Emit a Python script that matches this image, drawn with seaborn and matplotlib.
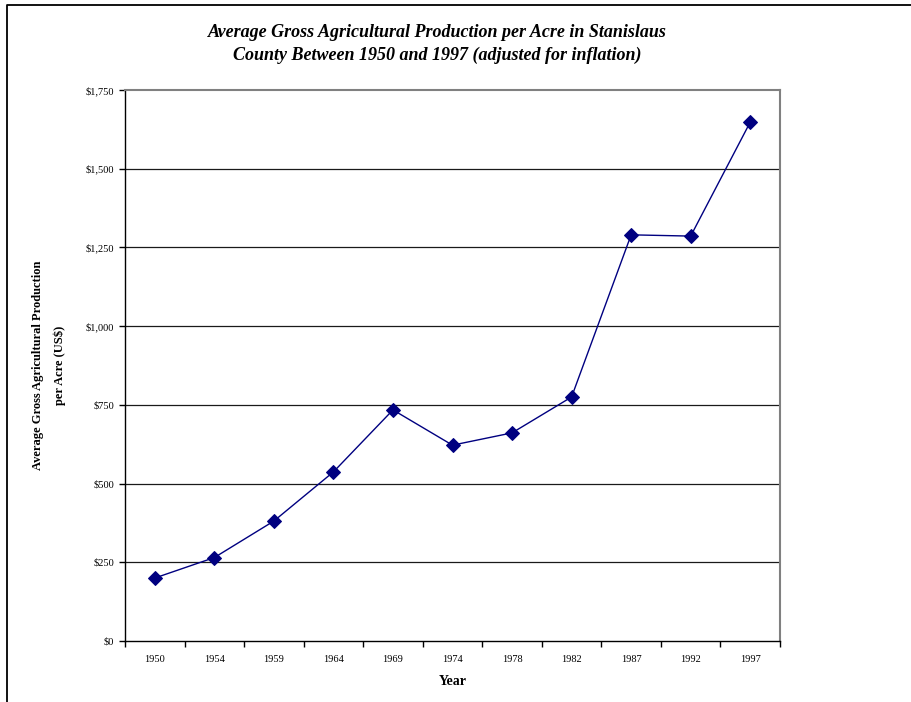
import matplotlib
matplotlib.use("Agg")
import matplotlib.pyplot as plt
from matplotlib.ticker import FixedLocator, FuncFormatter
from matplotlib.lines import Line2D
import seaborn as sns
import pandas as pd

years = ["1950", "1954", "1959", "1964", "1969", "1974", "1978", "1982", "1987", "1992", "1997"]
production = [200, 265, 381, 537, 734, 622, 661, 775, 1290, 1286, 1648]
y_ticks = [0, 250, 500, 750, 1000, 1250, 1500, 1750]

title_text = ("Average Gross Agricultural Production per Acre in Stanislaus\n"
              "County Between 1950 and 1997 (adjusted for inflation)")
y_label = "Average Gross Agricultural Production\nper Acre (US$)"
x_label = "Year"

sns.set_theme(style="white")
plt.rcParams["font.family"] = ["Liberation Serif", "DejaVu Serif"]

df = pd.DataFrame({"Year": years, "Production": production})

fig = plt.figure(figsize=(9.11, 7.02), dpi=100)
ax = fig.add_axes([125 / 911, 1 - 641 / 702, (780 - 125) / 911, (641 - 90) / 702])

# horizontal gridlines
for v in y_ticks[1:-1]:
    ax.axhline(v, color="#1a1a1a", lw=0.9, zorder=0)

sns.pointplot(data=df, x="Year", y="Production", ax=ax, color="#000080",
              marker="D", markersize=7.5, linewidth=1.0, errorbar=None)

ax.set_xlim(-0.5, len(years) - 0.5)
ax.set_ylim(0, 1750)
ax.yaxis.set_major_locator(FixedLocator(y_ticks))
ax.yaxis.set_major_formatter(FuncFormatter(lambda v, p: f"${v:,.0f}"))

# category boundary ticks on the x axis
ax.xaxis.set_minor_locator(FixedLocator([i - 0.5 for i in range(len(years) + 1)]))
ax.tick_params(axis="x", which="major", length=0, pad=10, labelsize=7.5, colors="black")
ax.tick_params(axis="x", which="minor", length=4, width=1, color="black", direction="out", bottom=True)
ax.tick_params(axis="y", which="major", length=4, width=1, color="black", direction="out",
               left=True, pad=4, labelsize=7.5, labelcolor="black")

for s in ["left", "bottom"]:
    ax.spines[s].set_color("black")
    ax.spines[s].set_linewidth(1.0)
for s in ["top", "right"]:
    ax.spines[s].set_color("#808080")
    ax.spines[s].set_linewidth(1.5)

ax.set_xlabel(x_label, fontsize=10, fontweight="bold", labelpad=8, color="black")
ax.set_ylabel(y_label, fontsize=9, fontweight="bold", labelpad=14, color="black",
              linespacing=2.0)

fig.text(437 / 911, 1 - 44 / 702, title_text, ha="center", va="center",
         fontsize=13, fontweight="bold", fontstyle="italic", linespacing=1.45, color="black")

# outer chart frame: top and left edges
fig.lines.append(Line2D([7 / 911, 7 / 911, 1.0], [0.0, 1 - 5 / 702, 1 - 5 / 702],
                        transform=fig.transFigure, color="black", lw=1.3))

fig.savefig("out.png", dpi=100)
